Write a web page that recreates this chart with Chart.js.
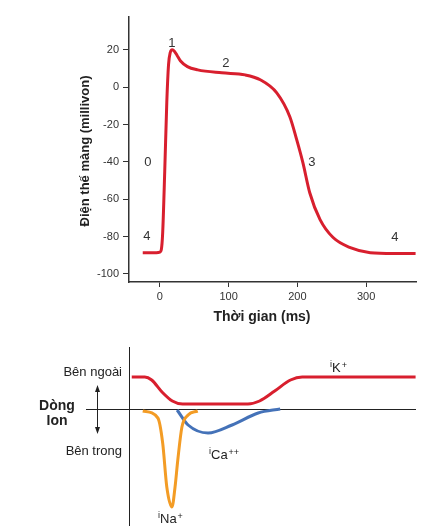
<!DOCTYPE html>
<html>
<head>
<meta charset="utf-8">
<script src="https://cdn.jsdelivr.net/npm/chart.js@4.4.1/dist/chart.umd.min.js"></script>
<style>
  body { margin: 0; background: #fff; }
  #wrap { position: relative; width: 444px; height: 532px; }
  canvas { position: absolute; left: 0; }
  #apChart { top: 0; }
  #ionChart { top: 340px; }
</style>
</head>
<body>
<div id="wrap">
  <canvas id="apChart" width="444" height="340"></canvas>
  <canvas id="ionChart" width="444" height="192"></canvas>
</div>
<script>
// dien the hoat dong (ms, mV)
const apTime = [-25, -5, 0, 2, 4, 7, 10, 12.5, 15, 18, 21, 25, 30, 40, 55, 90, 124, 146, 170, 189, 199, 208, 218, 233, 252, 277, 306, 340, 372];
const apVolt = [-88.6, -88.6, -88.3, -87, -78, -45, -8, 12, 18.5, 20, 19.3, 17, 14, 11, 9.3, 7.7, 6.6, 4, -3, -15.8, -28.1, -40.4, -56.5, -70.9, -80.5, -85.9, -88.6, -89, -89];

const yTicks = [-100, -80, -60, -40, -20, 0, 20];
const xTicks = [0, 100, 200, 300];

// nhan cac pha: [text, ms, mV]
const phaseText = ["1", "2", "0", "3", "4", "4"];
const phaseX = [17.5, 96, -17.5, 221, -19, 342];
const phaseY = [23.7, 12.9, -40.4, -40.4, -80, -80.5];

// dong ion (don vi tuy y, 0 = duong nen)
const kTime = [-41, -22, -12, 3, 18, 33, 128, 145, 167, 190, 207, 372];
const kVal = [32, 32, 29, 17, 8, 5, 5, 8, 18, 29, 32, 32];
const naTime = [-25, -3, 4, 10, 17.5, 22, 26, 32, 41, 55];
const naVal = [-2, -9, -34, -78, -98, -78, -51, -18, -6, -2];
const caTime = [25, 41, 70, 105, 143, 175];
const caVal = [-1, -16, -24, -16, -4, 0];

const xMin = -45, xMax = 372.6;
const RED = "#d81f2e", ORANGE = "#f39c25", BLUE = "#4472b8";
const FONT = "'Liberation Sans', Arial, sans-serif";

function pts(xs, ys) {
  return xs.map((x, i) => ({ x: x, y: ys[i] }));
}

const apLabels = {
  id: "apLabels",
  afterDraw(chart) {
    const ctx = chart.ctx;
    const sx = chart.scales.x, sy = chart.scales.y;
    ctx.save();
    ctx.fillStyle = "#333";
    ctx.font = "13px " + FONT;
    ctx.textAlign = "center";
    ctx.textBaseline = "middle";
    for (let i = 0; i < phaseText.length; i++) {
      ctx.fillText(phaseText[i], sx.getPixelForValue(phaseX[i]), sy.getPixelForValue(phaseY[i]));
    }
    ctx.fillStyle = "#222";
    ctx.font = "bold 14px " + FONT;
    ctx.fillText("Thời gian (ms)", 262, 317);
    ctx.translate(85, 151);
    ctx.rotate(-Math.PI / 2);
    ctx.font = "bold 13px " + FONT;
    ctx.fillText("Điện thế màng (millivon)", 0, 0);
    ctx.restore();
  }
};

new Chart(document.getElementById("apChart"), {
  type: "line",
  data: {
    datasets: [
      {
        data: pts(apTime, apVolt),
        borderColor: RED,
        borderWidth: 3,
        pointRadius: 0,
        cubicInterpolationMode: "monotone",
      },
    ],
  },
  options: {
    responsive: false,
    animation: false,
    layout: { padding: { top: 17, right: 28, left: 0, bottom: 0 } },
    plugins: { legend: { display: false }, tooltip: { enabled: false } },
    scales: {
      x: {
        type: "linear",
        min: xMin,
        max: xMax,
        afterBuildTicks: (s) => { s.ticks = xTicks.map((v) => ({ value: v })); },
        afterFit: (s) => { s.height = 58; },
        grid: { drawOnChartArea: false, tickLength: 5, color: "#333", lineWidth: 1 },
        border: { color: "#333", width: 1.5 },
        ticks: { color: "#333", font: { family: FONT, size: 11 }, padding: 3, maxRotation: 0 },
      },
      y: {
        min: -104.3,
        max: 37.6,
        afterBuildTicks: (s) => { s.ticks = yTicks.map((v) => ({ value: v })); },
        afterFit: (s) => { s.width = 129; },
        grid: { drawOnChartArea: false, tickLength: 6, color: "#333", lineWidth: 1 },
        border: { color: "#333", width: 1.5 },
        ticks: { color: "#333", font: { family: FONT, size: 11 }, padding: 4 },
      },
    },
  },
  plugins: [apLabels],
});

function ionName(ctx, x, y, name, sup) {
  ctx.font = "9px " + FONT;
  ctx.textAlign = "left";
  ctx.fillText("i", x, y - 5);
  const ix = x + ctx.measureText("i").width;
  ctx.font = "13px " + FONT;
  ctx.fillText(name, ix, y);
  const nx = ix + ctx.measureText(name).width + 1;
  ctx.font = "9px " + FONT;
  ctx.fillText(sup, nx, y - 4);
}

const ionLabels = {
  id: "ionLabels",
  beforeDatasetsDraw(chart) {
    const ctx = chart.ctx;
    const sy = chart.scales.y;
    const y0 = Math.round(sy.getPixelForValue(0)) + 0.5;
    ctx.save();
    ctx.strokeStyle = "#222";
    ctx.lineWidth = 1;
    ctx.beginPath();
    ctx.moveTo(86, y0);
    ctx.lineTo(chart.chartArea.right, y0);
    ctx.stroke();
    ctx.restore();
  },
  afterDraw(chart) {
    const ctx = chart.ctx;
    ctx.save();
    ctx.fillStyle = "#222";
    ctx.textBaseline = "middle";
    ctx.font = "13px " + FONT;
    ctx.textAlign = "right";
    ctx.fillText("Bên ngoài", 122, 32);
    ctx.fillText("Bên trong", 122, 111);
    ctx.textAlign = "center";
    ctx.font = "bold 14px " + FONT;
    ctx.fillText("Dòng", 57, 66);
    ctx.fillText("Ion", 57, 81);
    // mui ten hai chieu
    const ax = 97.5, top = 45, bot = 94;
    ctx.strokeStyle = "#222";
    ctx.lineWidth = 1;
    ctx.beginPath();
    ctx.moveTo(ax, top + 3);
    ctx.lineTo(ax, bot - 3);
    ctx.stroke();
    ctx.beginPath();
    ctx.moveTo(ax, top);
    ctx.lineTo(ax - 2.5, top + 7);
    ctx.lineTo(ax + 2.5, top + 7);
    ctx.closePath();
    ctx.moveTo(ax, bot);
    ctx.lineTo(ax - 2.5, bot - 7);
    ctx.lineTo(ax + 2.5, bot - 7);
    ctx.closePath();
    ctx.fill();
    ctx.textBaseline = "alphabetic";
    ionName(ctx, 330, 32, "K", "+");
    ionName(ctx, 209, 119, "Ca", "++");
    ionName(ctx, 158, 183, "Na", "+");
    ctx.restore();
  }
};

new Chart(document.getElementById("ionChart"), {
  type: "line",
  data: {
    datasets: [
      {
        data: pts(naTime, naVal),
        borderColor: ORANGE,
        borderWidth: 3,
        pointRadius: 0,
        cubicInterpolationMode: "monotone",
      },
      {
        data: pts(caTime, caVal),
        borderColor: BLUE,
        borderWidth: 3,
        pointRadius: 0,
        cubicInterpolationMode: "monotone",
      },
      {
        data: pts(kTime, kVal),
        borderColor: RED,
        borderWidth: 3,
        pointRadius: 0,
        cubicInterpolationMode: "monotone",
      },
    ],
  },
  options: {
    responsive: false,
    animation: false,
    layout: { padding: { top: 7, right: 28, left: 0, bottom: 7 } },
    plugins: { legend: { display: false }, tooltip: { enabled: false } },
    scales: {
      x: { type: "linear", min: xMin, max: xMax, display: false },
      y: {
        min: -116,
        max: 62,
        afterFit: (s) => { s.width = 129; },
        grid: { drawOnChartArea: false, drawTicks: false },
        border: { color: "#222", width: 1 },
        ticks: { display: false },
      },
    },
  },
  plugins: [ionLabels],
});
</script>
</body>
</html>
